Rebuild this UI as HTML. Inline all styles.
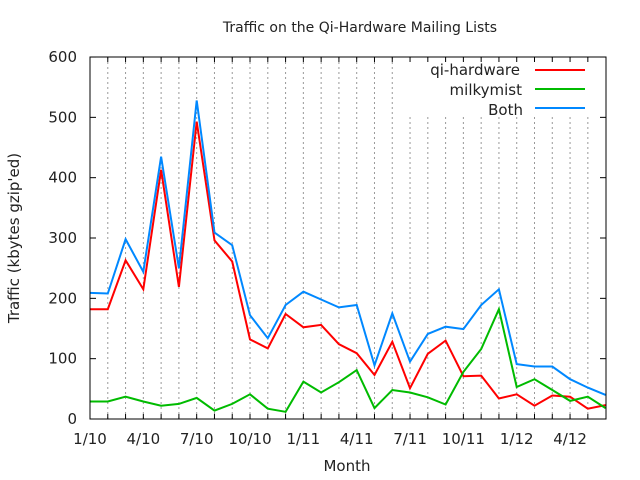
<!DOCTYPE html>
<html><head><meta charset="utf-8"><style>
html,body{margin:0;padding:0;background:#fff;width:640px;height:480px;overflow:hidden}
svg text{font-family:"DejaVu Sans","Liberation Sans",sans-serif;font-size:14px;fill:#222}
</style></head><body>
<svg id="s" width="640" height="480" viewBox="0 0 640 480" xmlns="http://www.w3.org/2000/svg">
<g id="grid" stroke="#999" stroke-width="1" stroke-dasharray="2,3"></g>
<rect x="400" y="58" width="205" height="58" fill="#fff"/>
<g id="ticks" stroke="#000" stroke-width="1"></g>
<g id="series" fill="none" stroke-width="2" stroke-linejoin="miter"></g>
<rect x="90" y="57" width="516" height="362" fill="none" stroke="#000" stroke-width="1"/>
<g id="labels"></g>
<text x="360" y="32" text-anchor="middle">Traffic on the Qi-Hardware Mailing Lists</text>
<text x="347" y="471" text-anchor="middle" style="font-size:15px">Month</text>
<text x="0" y="0" text-anchor="middle" transform="translate(19,238) rotate(-90)" style="font-size:15px">Traffic (kbytes gzip'ed)</text>
<text x="520" y="75" text-anchor="end" style="font-size:15px">qi-hardware</text>
<text x="522" y="95" text-anchor="end" style="font-size:15px">milkymist</text>
<text x="523" y="115" text-anchor="end" style="font-size:15px">Both</text>
<line x1="535" y1="70" x2="585" y2="70" stroke="#f00" stroke-width="2"/>
<line x1="535" y1="89" x2="585" y2="89" stroke="#0b0" stroke-width="2"/>
<line x1="535" y1="108" x2="585" y2="108" stroke="#08f" stroke-width="2"/>
</svg>
<script>
var NS="http://www.w3.org/2000/svg";
function el(p,t,a,txt){var e=document.createElementNS(NS,t);for(var k in a)e.setAttribute(k,a[k]);if(txt!=null)e.textContent=txt;document.getElementById(p).appendChild(e);}
function X(i){return 90+17.78*i;}
function Y(v){return 419-0.6033*v;}
for(var i=1;i<29;i++){el("grid","line",{x1:X(i),y1:57,x2:X(i),y2:419});}
for(var i=1;i<29;i++){el("ticks","line",{x1:X(i),y1:419,x2:X(i),y2:414});el("ticks","line",{x1:X(i),y1:57,x2:X(i),y2:62});}
var xl=["1/10","4/10","7/10","10/10","1/11","4/11","7/11","10/11","1/12","4/12"];
for(var j=0;j<xl.length;j++){el("labels","text",{x:X(j*3),y:444,"text-anchor":"middle",style:"font-size:15px"},xl[j]);}
for(var v=0;v<=600;v+=100){el("ticks","line",{x1:90,y1:Y(v),x2:96,y2:Y(v)});el("ticks","line",{x1:606,y1:Y(v),x2:600,y2:Y(v)});
el("labels","text",{x:77,y:Y(v)+5,"text-anchor":"end",style:"font-size:15px"},String(v));}
var red=[182,182,263,215,413,219,493,296,261,132,117,174,152,156,124,109,73,128,51,108,130,71,72,34,41,22,39,37,17,23];
var green=[29,29,37,29,22,25,35,14,25,41,17,12,62,44,61,81,18,48,44,36,24,78,116,182,53,66,48,30,37,18];
var blue=[209,208,298,244,435,250,528,309,288,172,134,189,211,198,185,189,89,175,95,141,153,149,189,215,91,87,87,66,52,40];
function pl(d,c){var p=d.map(function(v,i){return X(i).toFixed(1)+","+Y(v).toFixed(1)}).join(" ");el("series","polyline",{points:p,stroke:c});}
pl(red,"#f00");pl(green,"#0b0");pl(blue,"#08f");
</script>
</body></html>
